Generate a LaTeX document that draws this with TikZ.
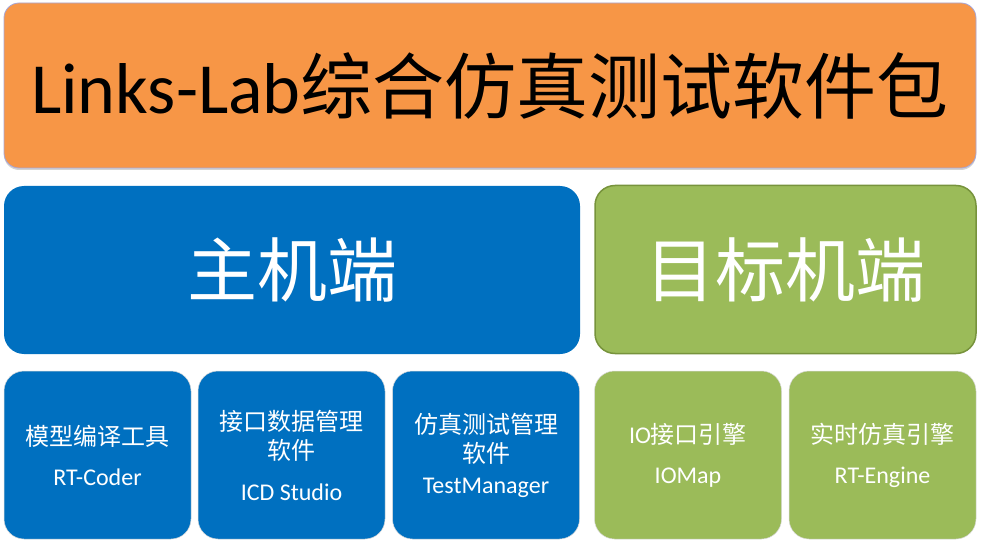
\documentclass[tikz,border=0pt]{standalone}
\usepackage{fontspec}
\setmainfont{Carlito}
\newfontfamily\cjk{Noto Sans CJK SC}
\usetikzlibrary{positioning, shadows}
\definecolor{packorange}{HTML}{F79646}
\definecolor{hostblue}{HTML}{0070C0}
\definecolor{targetgreen}{HTML}{9BBB59}
\definecolor{targetedge}{HTML}{77933C}
\tikzstyle{Pack} = [
rounded corners=15pt, fill=packorange, draw=gray!60!blue!50, line width=0.8pt,
drop shadow={opacity=0.35, shadow xshift=0pt, shadow yshift=-2pt},
minimum width=972pt, minimum height=165pt, inner sep=0pt,
font=\fontsize{72}{72}\selectfont]
\tikzstyle{Side} = [
rounded corners=20pt, minimum height=168pt, inner sep=0pt, text=white,
font=\cjk\fontsize{70}{70}\selectfont]
\tikzstyle{Tool} = [
rounded corners=20pt, minimum width=187pt, minimum height=168pt, inner sep=0pt,
draw=white!85!black, line width=0.5pt, text=white, align=center,
font=\fontsize{24}{29}\selectfont]

\begin{document}
\begin{tikzpicture}[x=1pt,y=-1pt]
    \useasboundingbox (0,0) rectangle (982,540);
    \node [Pack](1) at (490,85.5){Links-Lab\cjk 综合仿真测试软件包};
    \node [Side, fill=hostblue, minimum width=576pt](2) at (292,270){主机端};
    \node [Side, fill=targetgreen, draw=targetedge, line width=1.5pt, minimum width=381pt](3) at (785.5,269.5){目标机端};

    \node [Tool, fill=hostblue](4) at (97.5,455){\cjk 模型编译工具\\[11pt]\rmfamily RT-Coder};
    \node [Tool, fill=hostblue](5) at (291.5,455){\cjk 接口数据管理\\\cjk 软件\\[12pt]\rmfamily ICD Studio};
    \node [Tool, fill=hostblue](6) at (486,455){\cjk 仿真测试管理\\\cjk 软件\\[2pt]\rmfamily TestManager};
    \node [Tool, fill=targetgreen](7) at (688,455){IO\cjk 接口引擎\\[11pt]\rmfamily IOMap};
    \node [Tool, fill=targetgreen](8) at (882.5,455){\cjk 实时仿真引擎\\[11pt]\rmfamily RT-Engine};
\end{tikzpicture}
\end{document}
